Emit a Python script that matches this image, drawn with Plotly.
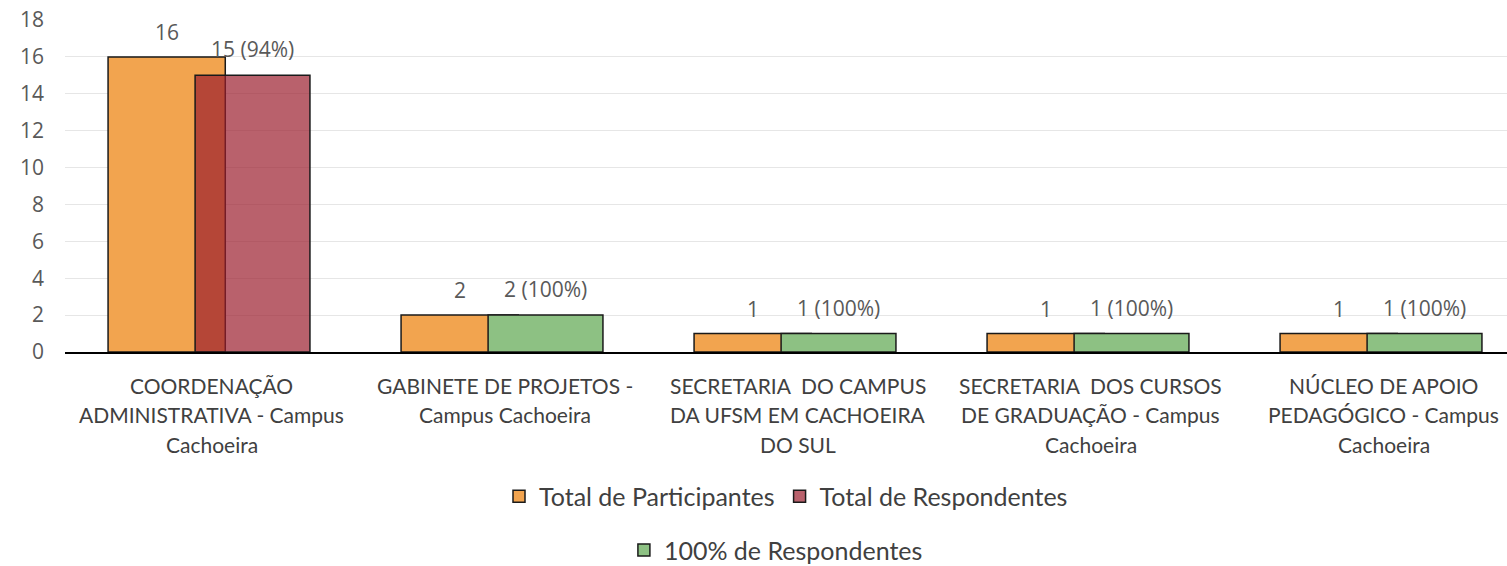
import plotly.graph_objects as go

categories = [
    "COORDENAÇÃO<br>ADMINISTRATIVA - Campus<br>Cachoeira",
    "GABINETE DE PROJETOS -<br>Campus Cachoeira",
    "SECRETARIA  DO CAMPUS<br>DA UFSM EM CACHOEIRA<br>DO SUL",
    "SECRETARIA  DOS CURSOS<br>DE GRADUAÇÃO - Campus<br>Cachoeira",
    "NÚCLEO DE APOIO<br>PEDAGÓGICO - Campus<br>Cachoeira",
]
participantes = [16, 2, 1, 1, 1]
respondentes = [15, None, None, None, None]
respondentes_100 = [None, 2, 1, 1, 1]
y_ticks = [0, 2, 4, 6, 8, 10, 12, 14, 16, 18]

FONT = "Lato"
NUMFONT = "Open Sans"
ORANGE = "#F2A44F"
RED = "rgba(155,30,45,0.70)"
GREEN = "#8DC183"
idx = list(range(len(categories)))

off_a, w_a = -0.353, 0.40
off_b, w_b = -0.056, 0.392

fig = go.Figure()
fig.add_trace(go.Bar(x=idx, y=participantes, name="Total de Participantes",
                     offset=off_a, width=w_a,
                     marker=dict(color=ORANGE, line=dict(color="#1a1a1a", width=1.5)),
                     legend="legend"))
fig.add_trace(go.Bar(x=idx, y=respondentes, name="Total de Respondentes",
                     offset=off_b, width=w_b,
                     marker=dict(color=RED, line=dict(color="#1a1a1a", width=1.5)),
                     legend="legend"))
fig.add_trace(go.Bar(x=idx, y=respondentes_100, name="100% de Respondentes",
                     offset=off_b, width=w_b,
                     marker=dict(color=GREEN, line=dict(color="#1a1a1a", width=1.5)),
                     legend="legend2"))

annotations = []
lab_font = dict(family=NUMFONT, size=21, color="#595959")
for i in idx:
    annotations.append(dict(x=i + off_a + w_a / 2, y=participantes[i], xref="x", yref="y",
                            text=str(participantes[i]), showarrow=False,
                            yshift=25, font=lab_font))
    r = respondentes[i] if respondentes[i] is not None else respondentes_100[i]
    pct = round(r / participantes[i] * 100)
    annotations.append(dict(x=i + off_b + w_b / 2, y=r, xref="x", yref="y",
                            text=f"{r} ({pct}%)", showarrow=False,
                            yshift=26, font=lab_font))
    for k, line in enumerate(categories[i].split("<br>")):
        annotations.append(dict(x=i, y=0, xref="x", yref="y", text=line,
                                showarrow=False, yshift=-33 - 29.5 * k,
                                font=dict(family=FONT, size=21, color="#404040")))

fig.update_layout(
    width=1507, height=566,
    margin=dict(l=65, r=0, t=20, b=214, autoexpand=False),
    paper_bgcolor="white", plot_bgcolor="white",
    barmode="overlay",
    font=dict(family=FONT, size=19, color="#595959"),
    xaxis=dict(range=[-0.5, -0.5 + 1442 / 293], showticklabels=False,
               showgrid=False, showline=True, linecolor="#000000", linewidth=2,
               zeroline=False, ticks=""),
    yaxis=dict(range=[0, 18], tickvals=y_ticks, showgrid=True, gridcolor="#E6E6E6",
               gridwidth=1, zeroline=False, showline=False, ticks="",
               tickfont=dict(family=NUMFONT, size=21, color="#595959"),
               ticklabelstandoff=20, ticklabeloverflow="allow"),
    legend=dict(orientation="h", x=0.5, xanchor="center", y=-0.435, yanchor="middle",
                font=dict(family=FONT, size=25, color="#404040"), itemwidth=30,
                traceorder="normal"),
    legend2=dict(orientation="h", x=0.493, xanchor="center", y=-0.597, yanchor="middle",
                 font=dict(family=FONT, size=25, color="#404040"), itemwidth=30),
    annotations=annotations,
)

# remove the default 8px body margin so the figure fills the window exactly
fig.write_html("out.html", config={"displayModeBar": False},
               post_script="document.body.style.margin='0px';")
